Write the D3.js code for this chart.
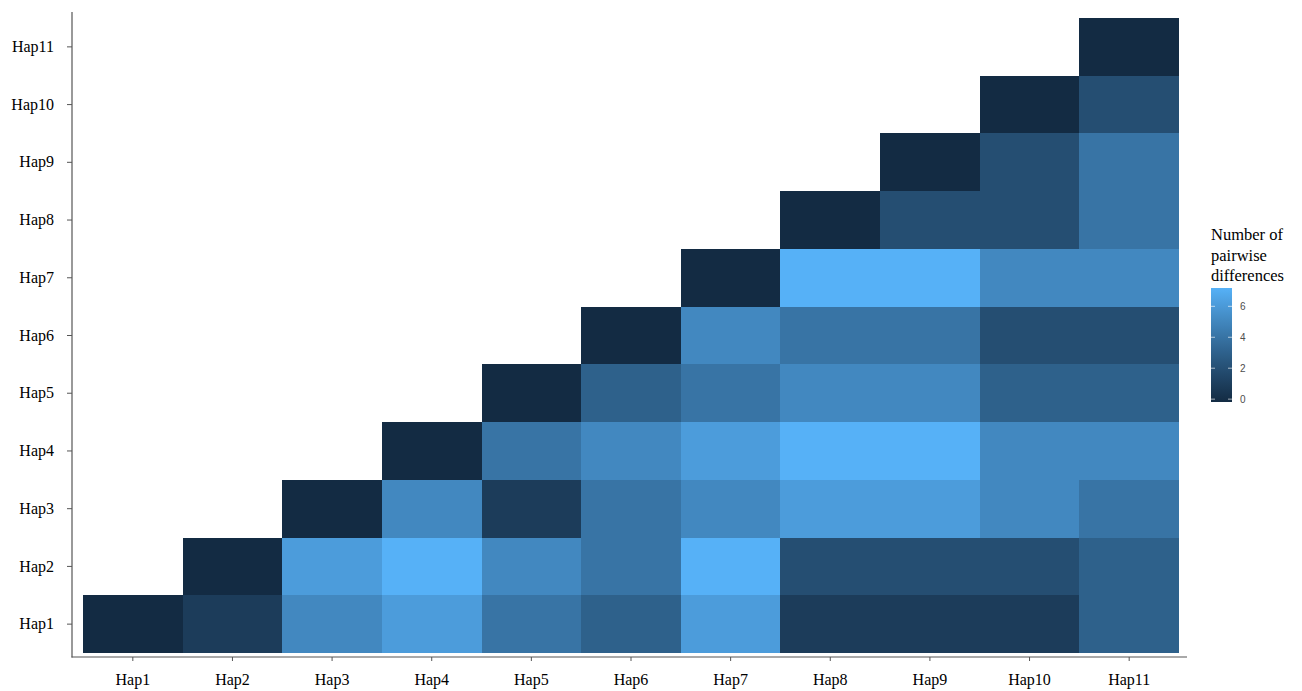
<!DOCTYPE html>
<html>
<head>
<meta charset="utf-8">
<script src="https://cdn.jsdelivr.net/npm/d3@7"></script>
<style>
  html, body { margin: 0; padding: 0; background: #ffffff; }
  svg { display: block; }
</style>
</head>
<body>
<svg id="chart" width="1302" height="691"></svg>
<script>
// Haplotype labels (shared by both axes)
const haplotypes = ["Hap1", "Hap2", "Hap3", "Hap4", "Hap5", "Hap6", "Hap7", "Hap8", "Hap9", "Hap10", "Hap11"];

// Pairwise differences; each row starts at its own haplotype on the x axis
const diffsHap1  = [0, 1, 5, 6, 4, 3, 6, 1, 1, 1, 3];
const diffsHap2  = [0, 6, 7, 5, 4, 7, 2, 2, 2, 3];
const diffsHap3  = [0, 5, 1, 4, 5, 6, 6, 5, 4];
const diffsHap4  = [0, 4, 5, 6, 7, 7, 5, 5];
const diffsHap5  = [0, 3, 4, 5, 5, 3, 3];
const diffsHap6  = [0, 5, 4, 4, 2, 2];
const diffsHap7  = [0, 7, 7, 5, 5];
const diffsHap8  = [0, 2, 2, 4];
const diffsHap9  = [0, 2, 4];
const diffsHap10 = [0, 2];
const diffsHap11 = [0];

// Legend
const legendTitle = ["Number of", "pairwise", "differences"];
const legendTicks = [0, 2, 4, 6];
const valueMax = 7;

const rows = [diffsHap1, diffsHap2, diffsHap3, diffsHap4, diffsHap5, diffsHap6,
              diffsHap7, diffsHap8, diffsHap9, diffsHap10, diffsHap11];

const cells = [];
rows.forEach((row, i) => {
  row.forEach((v, k) => {
    cells.push({ y: haplotypes[i], x: haplotypes[i + k], value: v });
  });
});

const svg = d3.select("#chart");
const serif = "'Liberation Serif', 'Times New Roman', serif";

const x = d3.scaleBand().domain(haplotypes).range([83, 1179]).padding(0);
const y = d3.scaleBand().domain(haplotypes).range([653, 18]).padding(0);

const color = d3.scaleLinear()
  .domain([0, valueMax])
  .range(["#132B43", "#56B1F7"])
  .interpolate(d3.interpolateLab);

// Tiles
svg.append("g")
  .selectAll("rect")
  .data(cells)
  .join("rect")
  .attr("x", d => x(d.x))
  .attr("y", d => y(d.y))
  .attr("width", x.bandwidth())
  .attr("height", y.bandwidth())
  .attr("fill", d => color(d.value))
  .attr("shape-rendering", "crispEdges");

// Axes
const axisColor = "#555555";
const xAxis = svg.append("g")
  .attr("transform", "translate(0,657)")
  .call(d3.axisBottom(x).tickSize(4).tickPadding(13).tickSizeOuter(0));
const yAxis = svg.append("g")
  .attr("transform", "translate(72,0)")
  .call(d3.axisLeft(y).tickSize(5).tickPadding(13).tickSizeOuter(0));

[xAxis, yAxis].forEach(g => {
  g.select(".domain").remove();
  g.selectAll(".tick line").attr("stroke", axisColor).attr("stroke-width", 1);
  g.selectAll(".tick text")
    .attr("fill", "#000")
    .style("font-family", serif)
    .style("font-size", "16px");
});

svg.append("line")
  .attr("x1", 72).attr("x2", 72).attr("y1", 12).attr("y2", 657.5)
  .attr("stroke", axisColor).attr("stroke-width", 1.2);
svg.append("line")
  .attr("x1", 71.5).attr("x2", 1187).attr("y1", 657).attr("y2", 657)
  .attr("stroke", axisColor).attr("stroke-width", 1.2);

// Colour bar legend
const barX = 1211, barW = 21, barTop = 288, barBottom = 402;
const binHalf = (barBottom - barTop) / 40;
const ly = d3.scaleLinear().domain([0, valueMax]).range([barBottom - binHalf, barTop + binHalf]);

const defs = svg.append("defs");
const grad = defs.append("linearGradient")
  .attr("id", "legend-gradient")
  .attr("x1", 0).attr("y1", 1).attr("x2", 0).attr("y2", 0);
d3.range(0, 1.0001, 0.05).forEach(t => {
  grad.append("stop")
    .attr("offset", t)
    .attr("stop-color", color(t * valueMax));
});

svg.append("rect")
  .attr("x", barX).attr("y", barTop)
  .attr("width", barW).attr("height", barBottom - barTop)
  .attr("fill", "url(#legend-gradient)");

const tickG = svg.append("g");
legendTicks.forEach(t => {
  const ty = ly(t);
  tickG.append("line")
    .attr("x1", barX).attr("x2", barX + 4).attr("y1", ty).attr("y2", ty)
    .attr("stroke", "#ffffff").attr("stroke-opacity", 0.8).attr("stroke-width", 0.8);
  tickG.append("line")
    .attr("x1", barX + barW - 4).attr("x2", barX + barW).attr("y1", ty).attr("y2", ty)
    .attr("stroke", "#ffffff").attr("stroke-opacity", 0.8).attr("stroke-width", 0.8);
  tickG.append("text")
    .attr("x", barX + barW + 8)
    .attr("y", ty)
    .attr("dy", "0.35em")
    .attr("fill", "#4d4d4d")
    .style("font-family", "'Liberation Sans', Arial, sans-serif")
    .style("font-size", "10px")
    .text(t);
});

svg.append("text")
  .attr("x", barX)
  .attr("y", 240)
  .attr("fill", "#000")
  .style("font-family", serif)
  .style("font-size", "16.5px")
  .selectAll("tspan")
  .data(legendTitle)
  .join("tspan")
  .attr("x", barX)
  .attr("dy", (d, i) => i === 0 ? 0 : 20.5)
  .text(d => d);
</script>
</body>
</html>
